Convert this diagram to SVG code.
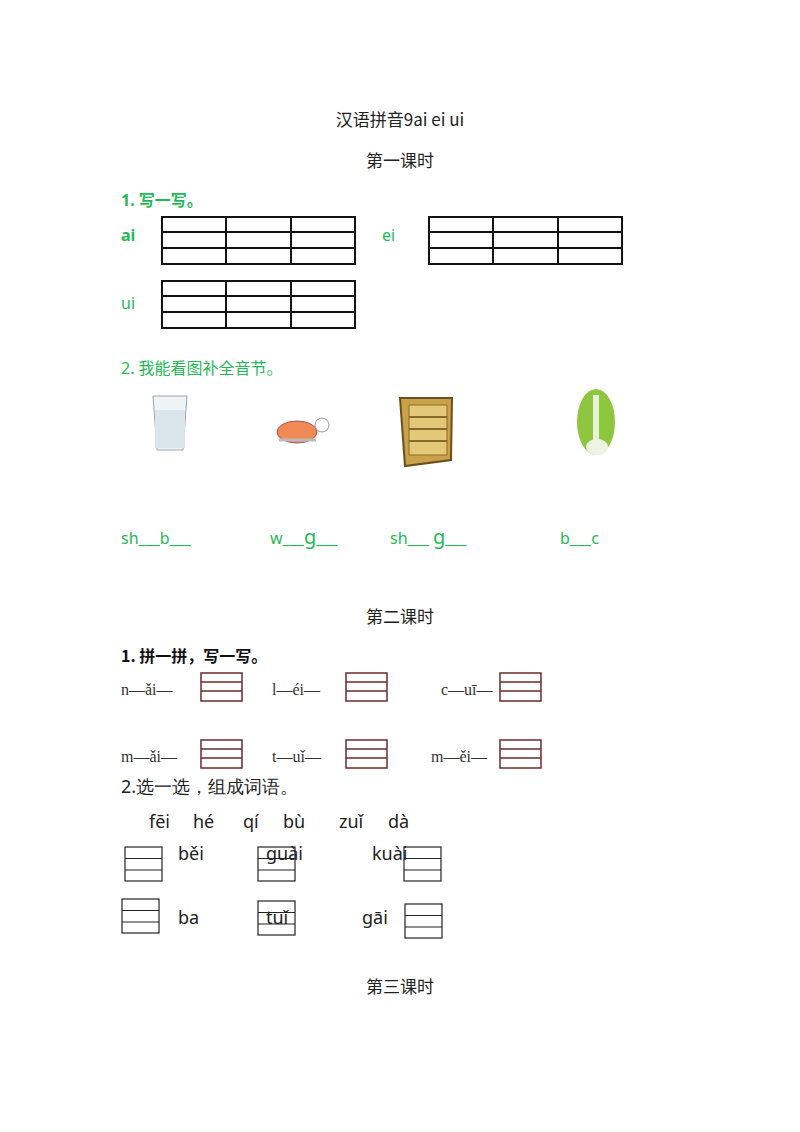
<svg xmlns="http://www.w3.org/2000/svg" width="800" height="1132" viewBox="0 0 800 1132">
<style>
.t{font-family:"Noto Sans CJK SC","Liberation Serif",serif;font-size:17px;fill:#222}
.g{font-family:"Noto Sans","Noto Sans CJK SC",sans-serif;fill:#1fb955;font-size:16px}
.k{font-family:"Noto Sans CJK SC",sans-serif;font-size:16px;font-weight:bold;fill:#111}
.p{font-family:"Liberation Serif","DejaVu Serif",serif;font-size:16px;fill:#333}
.s{font-family:"Noto Sans","Open Sans",sans-serif;font-size:18px;fill:#222}
.grid{fill:none;stroke:#111;stroke-width:2}
.bb{fill:none;stroke:#6b2a2a;stroke-width:1.5}
.bk{fill:none;stroke:#222;stroke-width:1.2}
</style>
<defs>
<g id="g3"><rect class="grid" x="0" y="0" width="193" height="47"/><path class="grid" d="M0 15H193M0 31H193M64 0V47M129 0V47"/></g>
<g id="bx"><rect class="bb" x="0" y="0" width="41" height="28"/><path class="bb" d="M0 9H41M0 18H41"/></g>
<g id="kb"><rect class="bk" x="0" y="0" width="37" height="34"/><path class="bk" d="M0 11.5H37M0 23H37"/></g>
</defs>
<text class="t" x="400" y="126" text-anchor="middle">汉语拼音9ai  ei  ui</text>
<text class="t" x="400" y="167" text-anchor="middle">第一课时</text>
<text class="g" x="121" y="206" font-weight="bold">1. 写一写。</text>
<text class="g" x="121" y="241" font-weight="bold" font-size="17">ai</text>
<text class="g" x="382" y="241">ei</text>
<text class="g" x="121" y="309" font-family="DejaVu Sans Mono,monospace">ui</text>
<g id="grid-ai"><use href="#g3" x="162" y="217"/></g>
<g id="grid-ei"><use href="#g3" x="429" y="217"/></g>
<g id="grid-ui"><use href="#g3" x="162" y="281"/></g>
<text class="g" x="121" y="374">2.  我能看图补全音节。</text>
<g id="glass"><path d="M153 396 L187 396 L183 450 L157 450 Z" fill="#eef3f6" stroke="#9aa6ad"/><rect x="155" y="410" width="30" height="38" fill="#dbe6ec"/></g>
<g id="turtle"><ellipse cx="297" cy="432" rx="20" ry="11" fill="#f08a55" stroke="#a55"/><circle cx="322" cy="425" r="7" fill="#fff" stroke="#999"/><path d="M279 440 H316" stroke="#bbb" stroke-width="3"/></g>
<g id="shelf"><path d="M400 398 L452 398 L451 460 L405 466 Z" fill="#c9a148" stroke="#6b4e1a" stroke-width="2"/><path d="M409 405 H447 V455 H409 Z" fill="#e3c878" stroke="#8a6a2a"/><path d="M409 417 H447 M409 429 H447 M409 441 H447" stroke="#8a6a2a" stroke-width="2"/></g>
<g id="cabbage"><ellipse cx="596" cy="422" rx="19" ry="33" fill="#8fc640"/><path d="M596 395 V455" stroke="#e8f2d8" stroke-width="6"/><ellipse cx="597" cy="447" rx="11" ry="8" fill="#eef4e2"/></g>
<text class="g" x="121" y="544">sh___b___</text>
<text class="g" x="270" y="544">w___<tspan font-size="20">g</tspan>___</text>
<text class="g" x="390" y="544">sh___  <tspan font-size="20">g</tspan>___</text>
<text class="g" x="560" y="544">b___c</text>
<text class="t" x="400" y="623" text-anchor="middle">第二课时</text>
<text class="k" x="121" y="662">1. 拼一拼，写一写。</text>
<text class="p" x="121" y="695">n—ǎi—</text>
<text class="p" x="272" y="695">l—éi—</text>
<text class="p" x="441" y="695">c—uī—</text>
<text class="p" x="121" y="762">m—ǎi—</text>
<text class="p" x="272" y="762">t—uǐ—</text>
<text class="p" x="431" y="762">m—ěi—</text>
<g id="b1"><use href="#bx" x="201" y="673"/></g>
<g id="b2"><use href="#bx" x="346" y="673"/></g>
<g id="b3"><use href="#bx" x="500" y="673"/></g>
<g id="b4"><use href="#bx" x="201" y="740"/></g>
<g id="b5"><use href="#bx" x="346" y="740"/></g>
<g id="b6"><use href="#bx" x="500" y="740"/></g>
<text class="s" x="121" y="793" font-size="16">2.选一选，组成词语。</text>
<text class="s" x="149" y="828">fēi</text>
<text class="s" x="193" y="828">hé</text>
<text class="s" x="243" y="828">qí</text>
<text class="s" x="283" y="828">bù</text>
<text class="s" x="339" y="828">zuǐ</text>
<text class="s" x="388" y="828">dà</text>
<g id="k1"><use href="#kb" x="125" y="847"/></g>
<g id="k2"><use href="#kb" x="258" y="847"/></g>
<g id="k3"><use href="#kb" x="404" y="847"/></g>
<g id="k4"><use href="#kb" x="122" y="899"/></g>
<g id="k5"><use href="#kb" x="258" y="901"/></g>
<g id="k6"><use href="#kb" x="405" y="904"/></g>
<text class="s" x="178" y="860">běi</text>
<text class="s" x="266" y="860">guài</text>
<text class="s" x="372" y="860">kuài</text>
<text class="s" x="178" y="924">ba</text>
<text class="s" x="266" y="924">tuǐ</text>
<text class="s" x="362" y="924">gāi</text>
<text class="t" x="400" y="993" text-anchor="middle">第三课时</text>
</svg>
